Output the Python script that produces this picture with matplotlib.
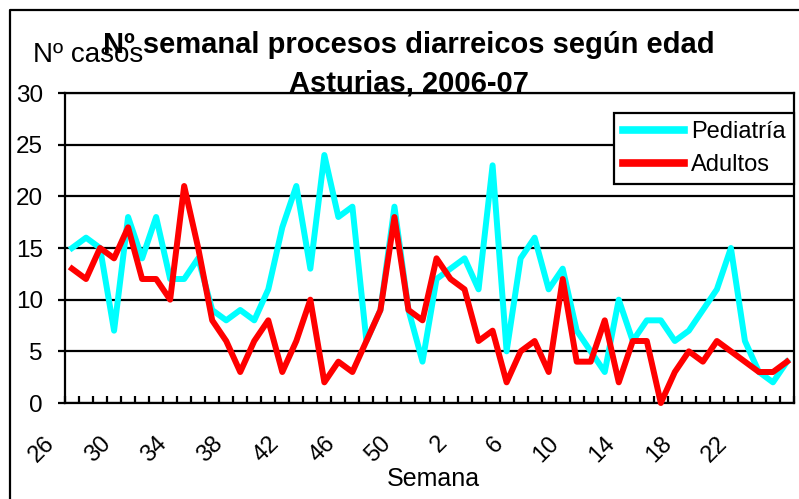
import numpy as np
import matplotlib
matplotlib.use("Agg")
import matplotlib.pyplot as plt
import matplotlib.transforms as mtransforms
from matplotlib.lines import Line2D

plt.rcParams["font.family"] = ["Liberation Sans", "DejaVu Sans"]

# week numbers, 2006 wk 26 -> 2007 wk 25
weeks = list(range(26, 53)) + list(range(1, 26))
pediatria = [15, 16, 15, 7, 18, 14, 18, 12, 12, 14, 9, 8, 9, 8, 11, 17, 21, 13,
             24, 18, 19, 6, 9, 19, 9, 4, 12, 13, 14, 11, 23, 5, 14, 16, 11, 13,
             7, 5, 3, 10, 6, 8, 8, 6, 7, 9, 11, 15, 6, 3, 2, 4]
adultos = [13, 12, 15, 14, 17, 12, 12, 10, 21, 15, 8, 6, 3, 6, 8, 3, 6, 10,
           2, 4, 3, 6, 9, 18, 9, 8, 14, 12, 11, 6, 7, 2, 5, 6, 3, 12,
           4, 4, 8, 2, 6, 6, 0, 3, 5, 4, 6, 5, 4, 3, 3, 4]
yticks = [0, 5, 10, 15, 20, 25, 30]

W, H = 799, 499
fig = plt.figure(figsize=(W / 100, H / 100), dpi=100)
ax = fig.add_axes([65 / W, 1 - 403 / H, (794 - 65) / W, (403 - 93) / H])

x = np.arange(len(weeks))
ax.plot(x, pediatria, color="#00ffff", lw=4.3, label="Pediatría",
        clip_on=False, zorder=3)
ax.plot(x, adultos, color="#ff0000", lw=4.3, label="Adultos",
        clip_on=False, zorder=4)

ax.set_xlim(-0.5, len(weeks) - 0.5)
ax.set_ylim(0, 30)
ax.set_yticks(yticks)
ax.yaxis.grid(True, color="black", lw=1.6)
ax.set_axisbelow(True)
for s in ax.spines.values():
    s.set_linewidth(1.6)
ax.tick_params(axis="y", direction="out", length=5, width=1.6, pad=11,
               labelsize=17.5)

# labels every 4 weeks, minor ticks at category borders
ax.set_xticks(x[::4])
ax.set_xticklabels([str(w) for w in weeks[::4]], rotation=45,
                   ha="right", va="top")
ax.set_xticks(np.arange(len(weeks) + 1) - 0.5, minor=True)
ax.tick_params(axis="x", which="major", length=0, pad=21, labelsize=17)
ax.tick_params(axis="x", which="minor", direction="in", length=5, width=1.6)
offset = mtransforms.ScaledTranslation(-13 / 100, 0, fig.dpi_scale_trans)
for lab in ax.get_xticklabels():
    lab.set_transform(lab.get_transform() + offset)

fig.text(433 / W, 1 - 486 / H, "Semana", ha="center", va="baseline",
         fontsize=18)
fig.text(33 / W, 1 - 62 / H, "Nº casos", ha="left", va="baseline",
         fontsize=20)
fig.text(409 / W, 1 - 53 / H, "Nº semanal procesos diarreicos según edad",
         ha="center", va="baseline", fontsize=21, fontweight="bold")
fig.text(409 / W, 1 - 92 / H, "Asturias, 2006-07",
         ha="center", va="baseline", fontsize=21, fontweight="bold")

leg = ax.legend(loc="upper right", bbox_to_anchor=(1.0, (403 - 113) / 310),
                borderaxespad=0, fontsize=17, fancybox=False,
                handlelength=2.6, handletextpad=0.3, labelspacing=0.45,
                borderpad=0.35, framealpha=1)
leg.get_frame().set_edgecolor("black")
leg.get_frame().set_linewidth(1.6)
for h in leg.legend_handles:
    h.set_linewidth(5.5)

# chart area border
fig.add_artist(Line2D([10 / W, 10 / W, 1], [0, 1 - 10 / H, 1 - 10 / H],
                      transform=fig.transFigure, color="black", lw=1.6))

fig.savefig("out.png", dpi=100)
